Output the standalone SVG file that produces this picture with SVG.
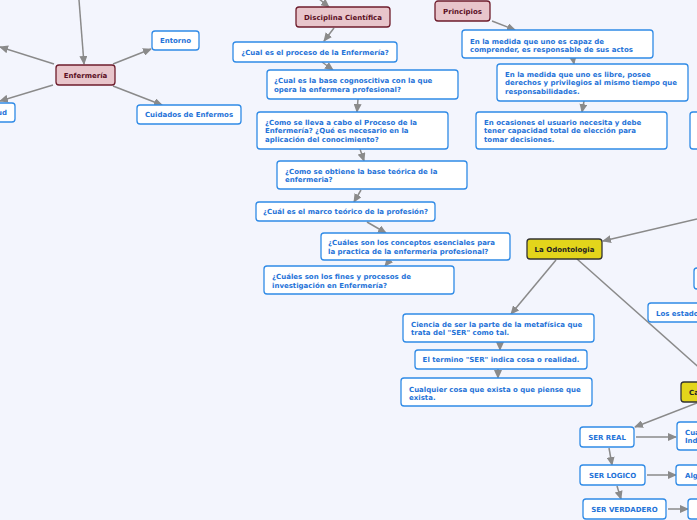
<svg xmlns="http://www.w3.org/2000/svg" width="697" height="520" viewBox="0 0 697 520">
<defs>
<marker id="ah" markerUnits="userSpaceOnUse" markerWidth="9" markerHeight="8" refX="8" refY="4" orient="auto">
<path d="M0,0 L9,4 L0,8 Z" fill="#8a8a8a"/>
</marker>
<style>
text{font-family:"DejaVu Sans","Verdana",sans-serif;font-weight:bold;font-size:7px;}
.b rect{fill:#ffffff;stroke:#2f8ae6;stroke-width:1.3;}
.b text{fill:#1f73d8;}
.p rect{fill:#e8c5cb;stroke:#6e1c2c;stroke-width:1.3;}
.p text{fill:#5a0f1f;text-anchor:middle;}
.y rect{fill:#e3d51b;stroke:#333333;stroke-width:1.3;}
.y text{fill:#222222;text-anchor:middle;}
.c{text-anchor:middle;}
#edges line{stroke:#8a8a8a;stroke-width:1.5;}
#edges .a{marker-end:url(#ah);}
</style>
</defs>
<rect x="0" y="0" width="697" height="520" fill="#f3f5fd"/>
<g id="edges">
<line class="a" x1="79" y1="0" x2="84" y2="64"/>
<line class="a" x1="54" y1="64" x2="0" y2="47"/>
<line class="a" x1="53" y1="85" x2="0" y2="101"/>
<line class="a" x1="113" y1="64" x2="151" y2="49"/>
<line class="a" x1="113" y1="86" x2="162" y2="105"/>
<line class="a" x1="318" y1="-2" x2="329" y2="7"/>
<line class="a" x1="334" y1="28" x2="324" y2="41"/>
<line class="a" x1="322" y1="62" x2="333" y2="70"/>
<line class="a" x1="358" y1="99" x2="357" y2="112"/>
<line class="a" x1="360" y1="149" x2="364" y2="161"/>
<line class="a" x1="361" y1="190" x2="354" y2="202"/>
<line class="a" x1="367" y1="222" x2="386" y2="233"/>
<line class="a" x1="389" y1="261" x2="385" y2="266"/>
<line class="a" x1="492" y1="21" x2="515" y2="30"/>
<line class="a" x1="573" y1="58" x2="574" y2="64"/>
<line class="a" x1="584" y1="101" x2="582" y2="112"/>
<line class="a" x1="697" y1="219" x2="603" y2="241"/>
<line class="a" x1="556" y1="260" x2="511" y2="314"/>
<line x1="577" y1="259" x2="712" y2="379"/>
<line class="a" x1="500" y1="342" x2="500" y2="350"/>
<line class="a" x1="498" y1="369" x2="498" y2="378"/>
<line class="a" x1="697" y1="403" x2="635" y2="427"/>
<line class="a" x1="636" y1="437" x2="676" y2="437"/>
<line class="a" x1="609" y1="448" x2="612" y2="465"/>
<line class="a" x1="647" y1="475" x2="676" y2="475"/>
<line class="a" x1="617" y1="486" x2="621" y2="499"/>
<line class="a" x1="668" y1="509" x2="688" y2="509"/>
</g>
<g id="enfermeria" class="p"><rect x="56" y="65" width="59" height="20" rx="3"/><text x="85.5" y="77.5">Enfermería</text></g>
<g id="entorno" class="b"><rect x="152" y="31" width="47" height="19" rx="3"/><text class="c" x="175.5" y="43">Entorno</text></g>
<g id="cuidados" class="b"><rect x="137" y="105" width="104" height="19" rx="3"/><text class="c" x="189" y="117">Cuidados de Enfermos</text></g>
<g id="salud" class="b"><rect x="-23" y="103" width="38" height="19" rx="3"/><text class="c" x="-4" y="115">Salud</text></g>
<g id="disciplina" class="p"><rect x="296" y="7" width="94" height="20" rx="3"/><text x="343" y="19.5">Disciplina Científica</text></g>
<g id="q1" class="b"><rect x="233" y="42" width="164" height="20" rx="3"/><text class="c" x="315" y="54.5">¿Cual es el proceso de la Enfermería?</text></g>
<g id="q2" class="b"><rect x="267" y="70" width="191" height="29" rx="3"/><text x="274" y="83">¿Cual es la base cognoscitiva con la que</text><text x="274" y="91.7">opera la enfermera profesional?</text></g>
<g id="q3" class="b"><rect x="257" y="112" width="191" height="37" rx="3"/><text x="265" y="125">¿Como se lleva a cabo el Proceso de la</text><text x="265" y="133.3">Enfermería? ¿Qué es necesario en la</text><text x="265" y="141.7">aplicación del conocimiento?</text></g>
<g id="q4" class="b"><rect x="277" y="161" width="190" height="28" rx="3"/><text x="285" y="174.4">¿Como se obtiene la base teórica de la</text><text x="285" y="182">enfermeria?</text></g>
<g id="q5" class="b"><rect x="256" y="202" width="179" height="19" rx="3"/><text class="c" x="345.5" y="214">¿Cuál es el marco teórico de la profesión?</text></g>
<g id="q6" class="b"><rect x="321" y="233" width="189" height="27" rx="3"/><text x="328" y="245.2">¿Cuáles son los conceptos esenciales para</text><text x="328" y="253.5">la practica de la enfermeria profesional?</text></g>
<g id="q7" class="b"><rect x="264" y="266" width="190" height="28" rx="3"/><text x="272" y="279.2">¿Cuáles son los fines y procesos de</text><text x="272" y="287.5">investigación en Enfermería?</text></g>
<g id="principios" class="p"><rect x="435" y="1" width="55" height="20" rx="3"/><text x="462.5" y="13.5">Principios</text></g>
<g id="pr1" class="b"><rect x="462" y="30" width="191" height="28" rx="3"/><text x="470" y="43.5">En la medida que uno es capaz de</text><text x="470" y="51.5">comprender, es responsable de sus actos</text></g>
<g id="pr2" class="b"><rect x="497" y="64" width="191" height="37" rx="3"/><text x="505" y="76.5">En la medida que uno es libre, posee</text><text x="505" y="85.3">derechos y privilegios al mismo tiempo que</text><text x="505" y="94">responsabilidades.</text></g>
<g id="pr3" class="b"><rect x="476" y="112" width="191" height="37" rx="3"/><text x="484" y="125">En ocasiones el usuario necesita y debe</text><text x="484" y="133.3">tener capacidad total de elección para</text><text x="484" y="141.8">tomar decisiones.</text></g>
<g id="pr4" class="b"><rect x="690" y="112" width="40" height="37" rx="3"/></g>
<g id="r2" class="b"><rect x="694" y="268" width="40" height="21" rx="3"/></g>
<g id="estados" class="b"><rect x="648" y="303" width="80" height="19" rx="3"/><text x="656" y="315.5">Los estados</text></g>
<g id="odontologia" class="y"><rect x="527" y="239" width="75" height="20" rx="3"/><text x="564.5" y="251.5">La Odontologia</text></g>
<g id="ciencia" class="b"><rect x="403" y="314" width="191" height="28" rx="3"/><text x="411" y="326.8">Ciencia de ser la parte de la metafísica que</text><text x="411" y="335.2">trata del "SER" como tal.</text></g>
<g id="termino" class="b"><rect x="415" y="350" width="172" height="19" rx="3"/><text class="c" x="501" y="362">El termino "SER" indica cosa o realidad.</text></g>
<g id="cualquier" class="b"><rect x="401" y="378" width="191" height="28" rx="3"/><text x="409" y="391.5">Cualquier cosa que exista o que piense que</text><text x="409" y="399.8">exista.</text></g>
<g id="ca" class="y"><rect x="681" y="382" width="50" height="20" rx="3"/><text x="689" y="394.5" style="text-anchor:start">Ca</text></g>
<g id="serreal" class="b"><rect x="580" y="427" width="54" height="20" rx="3"/><text class="c" x="607" y="439.5">SER REAL</text></g>
<g id="cua" class="b"><rect x="677" y="422" width="40" height="28" rx="3"/><text x="685" y="434.5">Cua</text><text x="685" y="443">Ind</text></g>
<g id="serlogico" class="b"><rect x="580" y="465" width="65" height="20" rx="3"/><text class="c" x="612.5" y="477.5">SER LOGICO</text></g>
<g id="alg" class="b"><rect x="676" y="465" width="40" height="20" rx="3"/><text x="685" y="477.5">Alg</text></g>
<g id="serverdadero" class="b"><rect x="583" y="499" width="83" height="20" rx="3"/><text class="c" x="624.5" y="511.5">SER VERDADERO</text></g>
<g id="r3" class="b"><rect x="688" y="499" width="40" height="20" rx="3"/></g>
</svg>
